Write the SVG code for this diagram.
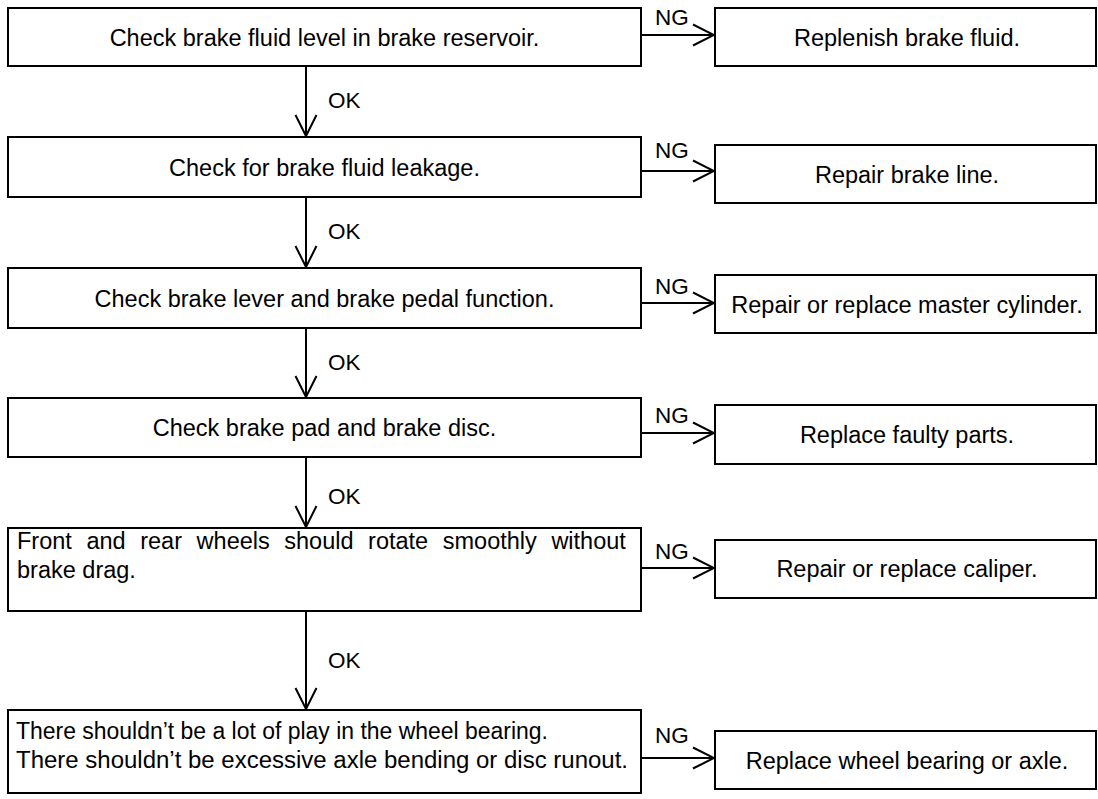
<svg xmlns="http://www.w3.org/2000/svg" width="1098" height="799" viewBox="0 0 1098 799">
<style>
.box{fill:#fff;stroke:#000;stroke-width:2}
.t{font-family:"Liberation Sans",Arial,sans-serif;font-size:23.5px;fill:#000}
.c{text-anchor:middle}
.lbl{font-family:"Liberation Sans",Arial,sans-serif;font-size:22.5px;fill:#000}
.ln{fill:none;stroke:#000;stroke-width:2;marker-end:url(#ah)}
</style>
<defs>
<marker id="ah" markerUnits="userSpaceOnUse" viewBox="-23 -12 25 24" markerWidth="25" markerHeight="24" refX="0" refY="0" orient="auto">
<path d="M-21,-10.5 L0,0 L-21,10.5" fill="none" stroke="#000" stroke-width="2"/>
</marker>
</defs>
<rect width="1098" height="799" fill="#fff"/>
<g id="connectors">
<line class="ln" x1="306" y1="66" x2="306" y2="136"/>
<line class="ln" x1="306" y1="197" x2="306" y2="267"/>
<line class="ln" x1="306" y1="328" x2="306" y2="397"/>
<line class="ln" x1="306" y1="457" x2="306" y2="527"/>
<line class="ln" x1="306" y1="611" x2="306" y2="709"/>
<line class="ln" x1="641" y1="35" x2="714" y2="35"/>
<line class="ln" x1="641" y1="171" x2="714" y2="171"/>
<line class="ln" x1="641" y1="303" x2="714" y2="303"/>
<line class="ln" x1="641" y1="433" x2="714" y2="433"/>
<line class="ln" x1="641" y1="568" x2="714" y2="568"/>
<line class="ln" x1="641" y1="758" x2="714" y2="758"/>
<text class="lbl" x="328" y="108">OK</text>
<text class="lbl" x="328" y="239">OK</text>
<text class="lbl" x="328" y="370">OK</text>
<text class="lbl" x="328" y="504">OK</text>
<text class="lbl" x="328" y="668">OK</text>
<text class="lbl" x="655" y="25">NG</text>
<text class="lbl" x="655" y="158">NG</text>
<text class="lbl" x="655" y="294">NG</text>
<text class="lbl" x="655" y="423">NG</text>
<text class="lbl" x="655" y="559">NG</text>
<text class="lbl" x="655" y="743">NG</text>
</g>
<g id="b1"><rect class="box" x="8" y="8" width="633" height="58"/><text class="t c" x="324.5" y="46">Check brake fluid level in brake reservoir.</text></g>
<g id="b2"><rect class="box" x="8" y="137" width="633" height="60"/><text class="t c" x="324.5" y="175.5">Check for brake fluid leakage.</text></g>
<g id="b3"><rect class="box" x="8" y="268" width="633" height="60"/><text class="t c" x="324.5" y="306.5">Check brake lever and brake pedal function.</text></g>
<g id="b4"><rect class="box" x="8" y="398" width="633" height="59"/><text class="t c" x="324.5" y="436">Check brake pad and brake disc.</text></g>
<g id="b5"><rect class="box" x="8" y="528" width="633" height="83"/>
<text class="t" y="549"><tspan x="17">Front</tspan><tspan x="86.4">and</tspan><tspan x="140.2">rear</tspan><tspan x="196.6">wheels</tspan><tspan x="284.3">should</tspan><tspan x="368.1">rotate</tspan><tspan x="442.8">smoothly</tspan><tspan x="551.4">without</tspan></text>
<text class="t" x="17" y="578">brake drag.</text></g>
<g id="b6"><rect class="box" x="8" y="710" width="633" height="83"/><text class="t" x="16" y="739" textLength="532" lengthAdjust="spacingAndGlyphs">There shouldn’t be a lot of play in the wheel bearing.</text><text class="t" x="16" y="768" textLength="612" lengthAdjust="spacingAndGlyphs">There shouldn’t be excessive axle bending or disc runout.</text></g>
<g id="r1"><rect class="box" x="715" y="8" width="381" height="58"/><text class="t c" x="907" y="45.5">Replenish brake fluid.</text></g>
<g id="r2"><rect class="box" x="715" y="145" width="381" height="58"/><text class="t c" x="907" y="182.5">Repair brake line.</text></g>
<g id="r3"><rect class="box" x="715" y="275" width="381" height="58"/><text class="t c" x="907" y="312.5">Repair or replace master cylinder.</text></g>
<g id="r4"><rect class="box" x="715" y="405" width="381" height="59"/><text class="t c" x="907" y="443">Replace faulty parts.</text></g>
<g id="r5"><rect class="box" x="715" y="540" width="381" height="58"/><text class="t c" x="907" y="577">Repair or replace caliper.</text></g>
<g id="r6"><rect class="box" x="715" y="731" width="381" height="58"/><text class="t c" x="907" y="768.5">Replace wheel bearing or axle.</text></g>
</svg>
